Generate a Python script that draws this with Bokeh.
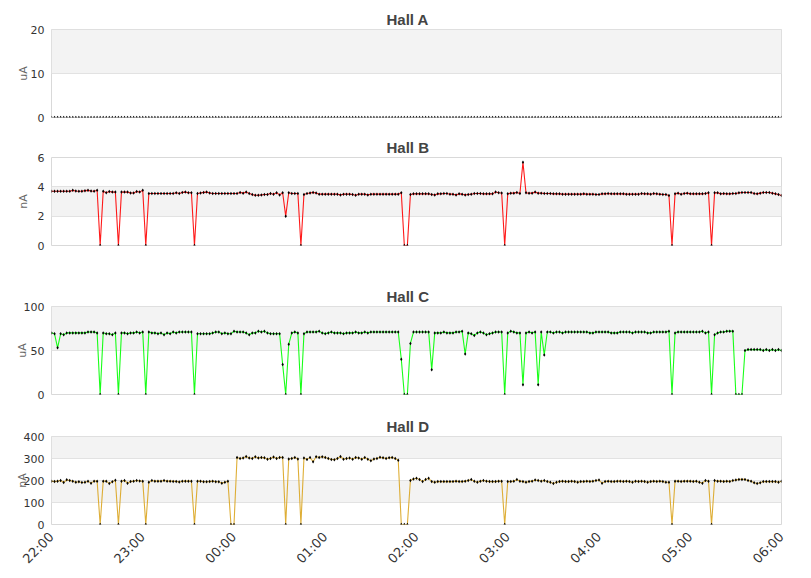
import math
from bokeh.plotting import figure
from bokeh.layouts import column
from bokeh.models import Range1d, FixedTicker
from bokeh.embed import file_html
from bokeh.resources import INLINE

# ---------------- data ----------------
SAMPLE_MINUTES = 2          # one reading every 2 minutes, 22:00 -> 06:00
HOUR_LABELS = ["22:00", "23:00", "00:00", "01:00", "02:00",
               "03:00", "04:00", "05:00", "06:00"]

TITLES = ["Hall A", "Hall B", "Hall C", "Hall D"]
UNITS = ["uA", "nA", "uA", "nA"]
Y_TICKS_A = [0, 10, 20]
Y_TICKS_B = [0, 2, 4, 6]
Y_TICKS_C = [0, 50, 100]
Y_TICKS_D = [0, 100, 200, 300, 400]

HALL_A = [
    0, 0, 0, 0, 0, 0, 0, 0, 0, 0,  0, 0, 0, 0, 0, 0, 0, 0, 0, 0,
    0, 0, 0, 0, 0, 0, 0, 0, 0, 0,  0, 0, 0, 0, 0, 0, 0, 0, 0, 0,
    0, 0, 0, 0, 0, 0, 0, 0, 0, 0,  0, 0, 0, 0, 0, 0, 0, 0, 0, 0,
    0, 0, 0, 0, 0, 0, 0, 0, 0, 0,  0, 0, 0, 0, 0, 0, 0, 0, 0, 0,
    0, 0, 0, 0, 0, 0, 0, 0, 0, 0,  0, 0, 0, 0, 0, 0, 0, 0, 0, 0,
    0, 0, 0, 0, 0, 0, 0, 0, 0, 0,  0, 0, 0, 0, 0, 0, 0, 0, 0, 0,
    0, 0, 0, 0, 0, 0, 0, 0, 0, 0,  0, 0, 0, 0, 0, 0, 0, 0, 0, 0,
    0, 0, 0, 0, 0, 0, 0, 0, 0, 0,  0, 0, 0, 0, 0, 0, 0, 0, 0, 0,
    0, 0, 0, 0, 0, 0, 0, 0, 0, 0,  0, 0, 0, 0, 0, 0, 0, 0, 0, 0,
    0, 0, 0, 0, 0, 0, 0, 0, 0, 0,  0, 0, 0, 0, 0, 0, 0, 0, 0, 0,
    0, 0, 0, 0, 0, 0, 0, 0, 0, 0,  0, 0, 0, 0, 0, 0, 0, 0, 0, 0,
    0, 0, 0, 0, 0, 0, 0, 0, 0, 0,  0, 0, 0, 0, 0, 0, 0, 0, 0, 0,
    0,
]

HALL_B = [
    3.70, 3.70, 3.70, 3.70, 3.70, 3.70, 3.70, 3.76, 3.72, 3.70,
    3.70, 3.74, 3.76, 3.72, 3.70, 3.77, 0.00, 3.70, 3.60, 3.68,
    3.64, 3.64, 0.00, 3.64, 3.64, 3.64, 3.58, 3.58, 3.68, 3.64,
    3.77, 0.00, 3.55, 3.55, 3.55, 3.55, 3.55, 3.55, 3.55, 3.55,
    3.55, 3.60, 3.55, 3.62, 3.64, 3.60, 3.60, 0.00, 3.55, 3.58,
    3.62, 3.64, 3.58, 3.55, 3.55, 3.55, 3.55, 3.55, 3.55, 3.55,
    3.55, 3.55, 3.62, 3.57, 3.64, 3.55, 3.47, 3.43, 3.43, 3.45,
    3.48, 3.48, 3.55, 3.50, 3.60, 3.45, 3.60, 2.00, 3.60, 3.55,
    3.55, 3.55, 0.00, 3.48, 3.55, 3.58, 3.62, 3.58, 3.50, 3.50,
    3.50, 3.50, 3.50, 3.50, 3.50, 3.45, 3.50, 3.50, 3.50, 3.48,
    3.43, 3.50, 3.50, 3.50, 3.45, 3.50, 3.50, 3.50, 3.50, 3.50,
    3.50, 3.50, 3.50, 3.50, 3.50, 3.59, 0.00, 0.00, 3.48, 3.52,
    3.52, 3.52, 3.52, 3.52, 3.52, 3.48, 3.45, 3.52, 3.52, 3.55,
    3.55, 3.50, 3.50, 3.45, 3.52, 3.50, 3.45, 3.48, 3.50, 3.55,
    3.55, 3.55, 3.52, 3.52, 3.52, 3.52, 3.65, 3.60, 3.58, 0.00,
    3.52, 3.57, 3.57, 3.62, 3.55, 5.68, 3.59, 3.57, 3.57, 3.64,
    3.57, 3.57, 3.55, 3.55, 3.55, 3.52, 3.52, 3.52, 3.50, 3.50,
    3.50, 3.50, 3.50, 3.50, 3.50, 3.52, 3.50, 3.50, 3.50, 3.48,
    3.48, 3.52, 3.52, 3.55, 3.52, 3.52, 3.52, 3.52, 3.52, 3.50,
    3.50, 3.50, 3.50, 3.50, 3.55, 3.52, 3.52, 3.50, 3.55, 3.52,
    3.50, 3.48, 3.48, 3.41, 0.00, 3.52, 3.57, 3.50, 3.55, 3.57,
    3.52, 3.52, 3.52, 3.52, 3.52, 3.55, 3.59, 0.00, 3.59, 3.59,
    3.52, 3.55, 3.52, 3.52, 3.55, 3.55, 3.59, 3.61, 3.61, 3.61,
    3.61, 3.55, 3.52, 3.57, 3.61, 3.61, 3.61, 3.57, 3.52, 3.48,
    3.41,
]

HALL_C = [
    70, 69, 53, 69, 68, 70, 70, 70, 70, 70,
    70, 70, 71, 71, 71, 70, 0, 70, 69, 69,
    68, 70, 0, 70, 70, 69, 70, 70, 71, 70,
    71, 0, 71, 70, 70, 69, 70, 68, 70, 69,
    71, 70, 71, 71, 71, 71, 71, 0, 69, 69,
    69, 69, 69, 70, 71, 71, 69, 70, 69, 69,
    72, 71, 71, 71, 70, 68, 70, 70, 72, 71,
    72, 70, 69, 69, 69, 69, 34, 0, 57, 70,
    71, 70, 0, 69, 71, 71, 71, 71, 72, 70,
    69, 70, 71, 70, 70, 70, 69, 70, 70, 70,
    71, 70, 70, 71, 70, 71, 71, 71, 71, 71,
    71, 71, 71, 71, 71, 40, 0, 0, 58, 71,
    71, 71, 71, 71, 71, 28, 70, 70, 70, 71,
    70, 70, 70, 71, 71, 72, 46, 70, 69, 67,
    70, 71, 70, 68, 69, 70, 71, 71, 71, 0,
    70, 72, 71, 70, 70, 11, 70, 71, 70, 71,
    11, 71, 45, 71, 71, 70, 71, 71, 70, 71,
    71, 71, 71, 71, 71, 71, 71, 70, 70, 71,
    71, 71, 71, 71, 70, 70, 70, 71, 71, 71,
    71, 70, 71, 71, 71, 71, 70, 70, 71, 71,
    71, 71, 71, 72, 0, 70, 71, 71, 71, 71,
    71, 71, 71, 71, 72, 70, 71, 0, 68, 70,
    71, 71, 72, 72, 72, 0, 0, 0, 50, 51,
    51, 51, 51, 51, 50, 51, 50, 51, 50, 51,
    50,
]

HALL_D = [
    197, 195, 197, 200, 191, 203, 200, 197, 192, 194,
    191, 192, 197, 188, 197, 197, 0, 197, 197, 186,
    194, 201, 0, 197, 200, 188, 195, 197, 200, 198,
    197, 0, 192, 200, 197, 197, 197, 200, 197, 197,
    196, 196, 193, 197, 197, 197, 197, 0, 197, 197,
    194, 194, 195, 197, 194, 194, 188, 192, 197, 0,
    0, 305, 300, 302, 309, 302, 300, 308, 302, 305,
    303, 297, 300, 307, 300, 305, 305, 0, 298, 300,
    305, 298, 0, 302, 296, 305, 285, 308, 305, 308,
    305, 300, 296, 294, 300, 309, 297, 300, 302, 297,
    305, 302, 297, 305, 297, 290, 298, 300, 306, 303,
    300, 303, 305, 300, 292, 0, 0, 0, 200, 207,
    210, 205, 195, 205, 210, 195, 192, 195, 195, 195,
    195, 195, 195, 197, 195, 195, 197, 200, 204, 197,
    192, 197, 200, 197, 195, 195, 195, 197, 197, 0,
    195, 195, 197, 205, 197, 195, 192, 195, 197, 202,
    200, 197, 200, 195, 192, 186, 192, 195, 197, 195,
    195, 197, 195, 192, 195, 195, 197, 195, 197, 200,
    202, 188, 195, 197, 195, 195, 197, 197, 195, 197,
    195, 192, 197, 195, 197, 195, 192, 195, 197, 195,
    197, 195, 192, 192, 0, 197, 197, 195, 197, 197,
    197, 195, 197, 192, 188, 200, 197, 0, 200, 197,
    197, 195, 197, 195, 200, 202, 205, 205, 205, 200,
    197, 190, 186, 190, 195, 195, 195, 195, 195, 192,
    197,
]

LINE_COLORS = [None, "#ff0000", "#00ff00", "#daa520"]

# ---------------- styling ----------------
FONT = "DejaVu Sans"
TITLE_FONT = "Liberation Sans"
FRAME_W, FRAME_H = 730, 88
TOTAL_MIN = (len(HOUR_LABELS) - 1) * 60


def minutes(series):
    return [i * SAMPLE_MINUTES for i in range(len(series))]


def panel(title, unit, ys, yticks, color, top, bottom, label_standoff, show_x):
    p = figure(frame_width=FRAME_W, frame_height=FRAME_H,
               min_border_left=51, min_border_right=21,
               min_border_top=top, min_border_bottom=bottom,
               x_range=Range1d(0, TOTAL_MIN),
               y_range=Range1d(yticks[0], yticks[-1]),
               x_axis_location="below" if show_x else None,
               output_backend="svg", toolbar_location=None, tools="")
    p.background_fill_color = "white"
    p.border_fill_color = "white"
    p.outline_line_color = "#d9d9d9"
    p.outline_line_width = 1

    p.title.text = title
    p.title.text_font = TITLE_FONT
    p.title.text_font_size = "15px"
    p.title.text_font_style = "bold"
    p.title.text_color = "#444444"
    p.title.align = "left"
    p.title.offset = 335
    p.title.standoff = 3

    p.xgrid.visible = False
    p.ygrid.ticker = FixedTicker(ticks=yticks)
    p.ygrid.grid_line_color = "#e2e2e2"
    p.ygrid.band_fill_color = "#f3f3f3"
    p.ygrid.band_fill_alpha = 1.0

    ya = p.yaxis[0]
    ya.ticker = FixedTicker(ticks=yticks)
    ya.axis_line_color = None
    ya.major_tick_line_color = None
    ya.minor_tick_line_color = None
    ya.major_tick_out = 0
    ya.major_tick_in = 0
    ya.minor_tick_out = 0
    ya.major_label_standoff = 7
    ya.major_label_text_font = FONT
    ya.major_label_text_font_size = "11px"
    ya.major_label_text_color = "#333333"
    ya.axis_label = unit
    ya.axis_label_text_font = FONT
    ya.axis_label_text_font_size = "11px"
    ya.axis_label_text_font_style = "normal"
    ya.axis_label_text_color = "#666666"
    ya.axis_label_standoff = label_standoff

    if show_x:
        xa = p.xaxis[0]
        ticks = [i * 60 for i in range(len(HOUR_LABELS))]
        xa.ticker = FixedTicker(ticks=ticks)
        xa.major_label_overrides = {t: lab for t, lab in zip(ticks, HOUR_LABELS)}
        xa.major_label_orientation = math.pi / 4
        xa.axis_line_color = None
        xa.major_tick_line_color = None
        xa.minor_tick_line_color = None
        xa.major_label_standoff = 4
        xa.major_label_text_font = FONT
        xa.major_label_text_font_size = "13px"
        xa.major_label_text_color = "#333333"

    xs = minutes(ys)
    if color is not None:
        p.line(xs, ys, line_color=color, line_width=1.1, line_alpha=0.9)
    p.scatter(xs, ys, marker="diamond", size=3.5, fill_color="black",
              line_color=None)
    return p


pa = panel(TITLES[0], UNITS[0], HALL_A, Y_TICKS_A, LINE_COLORS[0], 29, 8, -2, False)
pb = panel(TITLES[1], UNITS[1], HALL_B, Y_TICKS_B, LINE_COLORS[1], 32, 8, 5, False)
pc = panel(TITLES[2], UNITS[2], HALL_C, Y_TICKS_C, LINE_COLORS[2], 53, 8, -8, False)
pd_ = panel(TITLES[3], UNITS[3], HALL_D, Y_TICKS_D, LINE_COLORS[3], 34, 4, -8, True)

layout = column(pa, pb, pc, pd_, spacing=0)
open("out.html", "w").write(file_html(layout, INLINE))
